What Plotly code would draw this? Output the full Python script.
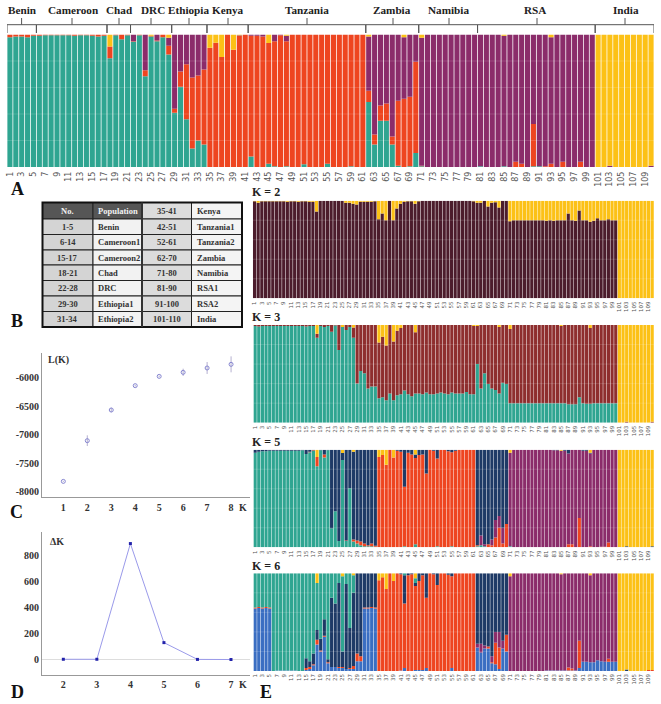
import plotly.graph_objects as go

W, H = 661, 704
BARS = list(range(1, 111))
TICKS = list(range(1, 110, 2))

TEAL, ORANGE, PURPLE, YELLOW = "#2fa591", "#ee4520", "#8b2c6a", "#fcc116"
DARK, BROWN, NAVY, BLUE = "#4c1c2c", "#8e2e2e", "#1e3a66", "#3a6ec2"

# ---- panel A
A_TEAL = [98,98.5,98.5,98,99,99,99.5,99.5,99.5,99.5,
 99.5,99,99.5,99.5,99,98.5,99,82,99.5,96.5,
 99.5,94.5,99.5,68.5,98.5,95,98,85,41,60.5,
 36,14,20,17,0,0,0,0,0,0,
 0,8,0,0,2.5,.5,0,.5,0,0,
 2,0,0,0,2.5,0,0,0,.5,0,
 0,49,17,35,35,17,1,0,.5,10.5,
 .5,0,0,0,0,0,0,0,0,0,
 .5,0,0,0,.5,0,0,0,0,.5,
 .5,0,0,0,0,0,0,0,0,0,
 0,0,0,0,0,0,0,0,0,0]
A_ORANGE = [2,1.5,1.5,2,1,1,.5,.5,.5,.5,
 .5,1,.5,.5,1,1.5,1,9,.5,3.5,
 .5,.5,.5,4.5,.5,.5,2,6.5,3,11.5,
 41.5,53.5,49,56.5,90,93.7,83,100,88.5,99,
 100,91,99,98.5,91,94.5,99.5,94.5,100,100,
 98,100,100,100,97.5,100,100,100,99.5,100,
 100,8.5,7.5,11.5,13,6,49,51.5,52.5,69,
 .5,0,0,0,0,0,0,0,0,0,
 0,0,0,0,0,0,4,2.5,0,32,
 0,.5,2.5,0,4,0,0,4,0,0,
 0,0,0,0,0,0,0,0,0,0]
A_PURPLE = [0,0,0,0,0,0,0,0,0,0,
 0,0,0,0,0,0,0,0,0,0,
 0,5,0,27,0,4.5,0,6,56,28,
 22.5,32.5,31,26.5,0,0,0,0,0,.5,
 0,1,1,1.5,0,5,.5,4,0,0,
 0,0,0,0,0,0,0,0,0,0,
 0,41,75.5,53.5,52,77,50,46.5,47,20.5,
 96.5,100,100,100,100,100,100,100,100,100,
 99.5,100,100,100,98.5,100,96,97.5,100,67.5,
 99.5,99.5,95.5,100,96,100,100,96,100,100,
 0,0,1,0,0,0,0,0,0,1]
A_YELLOW = [0,0,0,0,0,0,0,0,0,0,
 0,0,0,0,0,0,0,9,0,0,
 0,0,0,0,1,0,0,2.5,0,0,
 0,0,0,0,10,6.3,17,0,11.5,.5,
 0,0,0,0,6.5,0,0,1,0,0,
 0,0,0,0,0,0,0,0,0,0,
 0,1.5,0,0,0,0,0,2,0,0,
 2.5,0,0,0,0,0,0,0,0,0,
 0,0,0,0,1,0,0,0,0,0,
 0,0,2,0,0,0,0,0,0,0,
 100,100,99,100,100,100,100,100,100,99]

# ---- K = 2
K2_DARK = [99.5,98,99.5,99.5,99.5,99.5,99.5,99.5,99.5,99,
 99.5,99.5,99,99.5,99.5,99,99,89,100,100,
 100,100,100,100,100,98,98,97,96,99,
 99,99,99,99.5,81,87,80,100,80,92,
 97,99,99.5,99.5,97,99.5,100,100,100,100,
 100,100,100,100,100,100,100,100,100,100,
 99.5,98,98,100,94,98,98.5,93,100,100,
 79,80,80,80,80,80,80,80,80,80,
 79.5,80,79.5,80,80,80,87,80,79.5,90,
 80,80,78.5,79.5,82,80,80,81,80,80,
 0,0,0,0,0,0,0,0,0,0]
K2_YELLOW = [.5,2,.5,.5,.5,.5,.5,.5,.5,1,
 .5,.5,1,.5,.5,1,1,11,0,0,
 0,0,0,0,0,2,2,3,4,1,
 1,1,1,.5,19,13,20,0,20,8,
 3,1,.5,.5,3,.5,0,0,0,0,
 0,0,0,0,0,0,0,0,0,0,
 .5,2,2,0,6,2,1.5,7,0,0,
 21,20,20,20,20,20,20,20,20,20,
 20.5,20,20.5,20,20,20,13,20,20.5,10,
 20,20,21.5,20.5,18,20,20,19,20,20,
 100,100,100,100,100,100,100,100,100,100]

# ---- K = 3
K3_TEAL = [99,98.5,99,99,99,99,99,99,99,99,
 99,99,99,99,98.5,99,99,87,99,98,
 99,93,99.5,74.5,98,95,98,87,40,53,
 50.5,35,37,37,25,26,23,30,23,28,
 29,33,29,27,30,30,29,31,29,29,
 30,31,30,29,31,30,30,30,31.5,29,
 29,60,35,50.5,39.5,35,33.5,30,41,39.5,
 20,20,20,20,20,20,20,20,20,20,
 20,20,20,20,20,20,19,19,19,26,
 20,19.5,19.5,20,20,20,20,20,20,20,
 0,0,0,0,0,0,0,0,0,0]
K3_BROWN = [1,1.5,1,1,1,1,1,1,1,1,
 1,1,1,1,1.5,1,1,4,1,2,
 1,7,.5,25.5,0,5,2,10.5,60,47,
 49.5,65,63,63,57,62,56,70,60,66,
 68,67,71,73,62.5,70,71,69,71,71,
 70,69,70,71,69,70,70,70,68.5,71,
 70,39,65,49.5,60.5,65,66.5,68,59,60.5,
 76,80,80,80,80,80,80,80,80,80,
 80,80,80,80,79,80,81,81,81,74,
 80,80.5,77.5,80,80,80,80,80,80,80,
 0,0,1,0,0,0,0,0,0,1]
K3_YELLOW = [0,0,0,0,0,0,0,0,0,0,
 0,0,0,0,0,0,0,9,0,0,
 0,0,0,0,2,0,0,2.5,0,0,
 0,0,0,0,18,12,21,0,17,6,
 3,0,0,0,7.5,0,0,0,0,0,
 0,0,0,0,0,0,0,0,0,0,
 1,1,0,0,0,0,0,2,0,0,
 4,0,0,0,0,0,0,0,0,0,
 0,0,0,0,1,0,0,0,0,0,
 0,0,3,0,0,0,0,0,0,0,
 100,100,99,100,100,100,100,100,100,99]

# ---- K = 5
K5_TEAL = [97,98,98.5,98.5,99,99,99,99,99,99,
 99,99,99,99.5,95.5,97.5,99,83,99.5,92,
 99.5,19.5,37,6.5,89.5,6.5,60.5,6,4,2,
 1,1,1,.5,0,0,0,0,0,0,
 0,1,0,0,3,0,0,0,0,0,
 1,0,0,0,1,0,0,0,0,0,
 0,1,2,1,0,0,0,0,0,0,
 1,0,0,0,0,0,0,0,0,0,
 0,0,0,0,0,0,0,0,0,0,
 0,0,0,0,0,0,0,0,0,0,
 0,0,0,0,0,0,0,0,0,0]
K5_ORANGE = [0,0,0,0,0,0,0,0,0,0,
 0,0,0,0,0,.5,.5,9.5,0,3,
 0,0,0,0,0,.5,0,2,3,4,
 3,1,3,1,92.5,94.5,84.5,100,92,99,
 98,61,97,95,88.5,94.5,95,75.5,100,99,
 90,100,100,98.5,96.5,99,100,100,100,100,
 100,1,0,0,3,2,10,20,4,24,
 0,0,0,0,0,0,0,0,0,0,
 0,0,0,0,0,0,3,3,0,30,
 0,0,1,0,0,.5,.5,5,0,0,
 0,0,0,0,0,0,0,0,0,0]
K5_PURPLE = [0,0,0,0,0,0,0,0,0,0,
 0,0,0,0,0,0,0,0,0,0,
 0,0,0,0,0,0,0,0,0,0,
 0,0,0,0,0,0,0,0,0,0,
 0,0,0,0,0,0,0,0,0,0,
 0,0,0,0,0,0,0,0,0,0,
 0,0,10,2,0,6,18,12,16,0,
 96,100,100,100,100,100,100,100,100,100,
 100,100,99.5,99.5,99,99,93,97,100,70,
 99,99,95,100,100,99.5,99.5,95,100,100,
 0,0,0,0,0,0,0,0,0,0]
K5_NAVY = [3,2,1.5,1.5,1,1,1,1,1,1,
 1,1,1,.5,4.5,2,.5,0,.5,5,
 .5,80.5,63,93.5,7,93,39.5,90,93,94,
 96,98,96,98.5,0,0,0,0,0,1,
 2,38,3,5,3.5,5.5,5,24.5,0,1,
 9,0,0,1.5,2.5,1,0,0,0,0,
 0,98,88,97,97,92,72,68,80,76,
 0,0,0,0,0,0,0,0,0,0,
 0,0,.5,.5,0,1,4,0,0,0,
 1,1,1,0,0,0,0,0,0,0,
 0,0,1,0,0,0,0,0,0,1]
K5_YELLOW = [0,0,0,0,0,0,0,0,0,0,
 0,0,0,0,0,0,0,7.5,0,0,
 0,0,0,0,3.5,0,0,2,0,0,
 0,0,0,0,7.5,5.5,15.5,0,8,0,
 0,0,0,0,5,0,0,0,0,0,
 0,0,0,0,0,0,0,0,0,0,
 0,0,0,0,0,0,0,0,0,0,
 3,0,0,0,0,0,0,0,0,0,
 0,0,0,0,1,0,0,0,0,0,
 0,0,3,0,0,0,0,0,0,0,
 100,100,99,100,100,100,100,100,100,99]

# ---- K = 6
K6_BLUE = [64,64.5,64,64.5,64,0,.5,.5,.5,.5,
 .5,.5,0,0,1,2,6,27,20,35,
 8,4,4,3,3,2,2,2,10,10,
 64,64,64.5,64,0,0,0,0,0,0,
 .5,3,0,0,1,1,1,3,0,0,
 0,0,0,0,3,0,0,0,0,0,
 0,24,19,23,23,8,7,2,23,20,
 0,0,0,0,0,0,0,0,0,0,
 .5,.5,.5,.5,.5,.5,.5,.5,.5,3,
 9.5,9.5,9,9,11,10,9.5,9.5,9.5,9.5,
 0,0,0,0,0,0,0,0,0,0]
K6_ORANGE = [1,1,1,1,1,0,0,0,0,0,
 0,0,0,0,2,2,1,5,1,1,
 1,0,0,1,1,0,1,3,8,5,
 1,1,1,1,93,96,84,100,92,100,
 98.5,66,98,99,86,91,97,72,100,99,
 88,100,100,98.5,94,100,100,100,100,100,
 100,0,0,0,2,1,22,22,0,17,
 0,0,0,0,0,0,0,0,0,0,
 0,0,0,0,0,0,3,2,0,28,
 0,0,0,0,0,0,0,3,0,0,
 0,0,0,0,0,0,0,0,1,1]
K6_PURPLE = [0,0,0,0,0,0,0,0,0,0,
 0,0,0,0,0,0,0,0,0,0,
 0,0,0,0,0,0,0,0,0,0,
 0,0,0,0,0,0,0,0,0,0,
 0,0,0,0,0,0,0,0,0,0,
 0,0,0,0,0,0,0,0,0,0,
 0,4,9,3,0,6,11,16,8,0,
 97,100,100,100,100,100,100,100,100,100,
 99.5,99.5,99.5,99.5,98.5,99.5,96.5,97.5,99.5,69,
 90.5,90.5,89,91,89,90,90.5,87.5,90.5,90.5,
 0,0,0,0,0,0,0,0,0,0]
K6_NAVY = [0,0,0,0,0,0,0,0,0,0,
 0,0,0,0,10,6,11,10,12,17,
 3,71,65,86,16,87,41,75,82,85,
 35,35,34.5,35,0,0,0,0,0,0,
 1,29,2,1,3,8,2,25,0,1,
 12,0,0,1.5,3,0,0,0,0,0,
 0,72,72,74,75,85,60,60,69,63,
 0,0,0,0,0,0,0,0,0,0,
 0,0,0,0,0,0,0,0,0,0,
 0,0,0,0,0,0,0,0,0,0,
 0,0,1.5,0,0,0,0,0,0,0]
K6_TEAL = [35,34.5,35,34.5,35,100,99.5,99.5,99.5,99.5,
 99.5,99.5,100,100,87,90,82,48,67,47,
 88,25,31,10,77,11,56,18,0,0,
 0,0,0,0,0,0,0,0,0,0,
 0,2,0,0,5,0,0,0,0,0,
 0,0,0,0,0,0,0,0,0,0,
 0,0,0,0,0,0,0,0,0,0,
 0,0,0,0,0,0,0,0,0,0,
 0,0,0,0,0,0,0,0,0,0,
 0,0,0,0,0,0,0,0,0,0,
 0,0,0,0,0,0,0,0,0,0]
K6_YELLOW = [0,0,0,0,0,0,0,0,0,0,
 0,0,0,0,0,0,0,10,0,0,
 0,0,0,0,3,0,0,2,0,0,
 0,0,0,0,7,4,16,0,8,0,
 0,0,0,0,5,0,0,0,0,0,
 0,0,0,0,0,0,0,0,0,0,
 0,0,0,0,0,0,0,0,0,0,
 3,0,0,0,0,0,0,0,0,0,
 0,0,0,0,1,0,0,0,0,0,
 0,0,2,0,0,0,0,0,0,0,
 100,100,98.5,100,100,100,100,100,99,99]

# ---- panels C and D
LK_K = [1, 2, 3, 4, 5, 6, 7, 8]
LK_MEAN = [-7819, -7105, -6567, -6140, -5977, -5906, -5830, -5766]
LK_ERR = [10, 94, 40, 15, 15, 64, 105, 140]
DK_K = [2, 3, 4, 5, 6, 7]
DK_VAL = [0, 0, 890, 128, -1, -2]

# ---- population groups
GROUPS = ["Benin","Cameroon","Chad","DRC","Ethiopia","Kenya","Tanzania","Zambia","Namibia","RSA","India"]
GROUP_START = [0,5,17,21,28,34,41,61,70,80,100]
GROUP_END = [5,17,21,28,34,41,61,70,80,100,110]
GROUP_LABEL_X = [22,73,119,153,188,227,307,392,448,535,626]
GROUP_TICK_X = [21.6,72,119,151,189,228,307,393,449,537,625]

# ---- table
T_NO = ["No.","1-5","6-14","15-17","18-21","22-28","29-30","31-34"]
T_POP = ["Population","Benin","Cameroon1","Cameroon2","Chad","DRC","Ethiopia1","Ethiopia2"]
T_NO2 = ["35-41","42-51","52-61","62-70","71-80","81-90","91-100","101-110"]
T_POP2 = ["Kenya","Tanzania1","Tanzania2","Zambia","Namibia","RSA1","RSA2","India"]
COL_EDGES = [42.5, 93, 142, 191.5, 242]
ROW_EDGES = [202.5, 219, 234.5, 250, 265, 280.5, 296, 311.5, 327]

SERIF = "Liberation Serif"
SANS = "DejaVu Sans"


def fx(p):
    return p / W


def fy(p):
    return 1 - p / H


fig = go.Figure()
layout = {}
shapes = []
ann = []


def text(x, y, s, size=12, color="#222", bold=True, anchor="center"):
    ann.append(dict(xref="paper", yref="paper", x=fx(x), y=fy(y), text=f"<b>{s}</b>" if bold else s,
                    showarrow=False, xanchor=anchor, yanchor="middle",
                    font=dict(family=SERIF, size=size, color=color)))


def stack(idx, rect, series, tick_size):
    x0, y0, x1, y1 = rect
    suffix = "" if idx == 1 else str(idx)
    for vals, col in series:
        fig.add_trace(go.Bar(x=BARS, y=vals, marker=dict(color=col, line=dict(width=0)),
                             xaxis="x" + suffix, yaxis="y" + suffix, showlegend=False, hoverinfo="skip"))
    layout["xaxis" + suffix] = dict(domain=[fx(x0), fx(x1)], range=[0.5, 110.5], anchor="y" + suffix,
                                    tickmode="array", tickvals=TICKS, ticktext=[str(t) for t in TICKS],
                                    tickangle=-90, showgrid=False, zeroline=False, showline=False,
                                    ticks="", ticklabelstandoff=1 if idx > 1 else 2,
                                    tickfont=dict(family=SANS, size=tick_size, color="#555"))
    layout["yaxis" + suffix] = dict(domain=[fy(y1), fy(y0)], range=[0, 100], anchor="x" + suffix,
                                    showgrid=False, zeroline=False, showline=False, showticklabels=False)
    for g in (20, 40, 60, 80):
        shapes.append(dict(type="line", xref=f"x{suffix} domain", yref="y" + suffix, x0=0, x1=1, y0=g, y1=g,
                           layer="above", line=dict(color="rgba(255,255,255,0.14)", width=1)))


stack(1, (7, 34.5, 654, 167), [(A_TEAL, TEAL), (A_ORANGE, ORANGE), (A_PURPLE, PURPLE), (A_YELLOW, YELLOW)], 8)
stack(2, (252.7, 200.7, 654, 298.3), [(K2_DARK, DARK), (K2_YELLOW, YELLOW)], 5.5)
stack(3, (253.3, 325, 654, 422.7), [(K3_TEAL, TEAL), (K3_BROWN, BROWN), (K3_YELLOW, YELLOW)], 5.5)
stack(4, (253.3, 449.7, 654, 547.3),
      [(K5_TEAL, TEAL), (K5_ORANGE, ORANGE), (K5_PURPLE, PURPLE), (K5_NAVY, NAVY), (K5_YELLOW, YELLOW)], 5.5)
stack(5, (253.3, 573.3, 654, 671),
      [(K6_BLUE, BLUE), (K6_ORANGE, ORANGE), (K6_PURPLE, PURPLE), (K6_NAVY, NAVY), (K6_TEAL, TEAL), (K6_YELLOW, YELLOW)], 5.5)

# brackets above panel A
BR = dict(color="#555", width=1)
for name, s, e, lx, tx in zip(GROUPS, GROUP_START, GROUP_END, GROUP_LABEL_X, GROUP_TICK_X):
    s_, e_ = s + 0.5, e + 0.5
    shapes.append(dict(type="line", xref="x", yref="paper", x0=s_, x1=e_, y0=fy(24.7), y1=fy(24.7), line=BR))
    shapes.append(dict(type="line", xref="x", yref="paper", x0=s_, x1=s_, y0=fy(24.7), y1=fy(33), line=BR))
    shapes.append(dict(type="line", xref="x", yref="paper", x0=e_, x1=e_, y0=fy(24.7), y1=fy(33), line=BR))
    shapes.append(dict(type="line", xref="paper", yref="paper", x0=fx(tx), x1=fx(tx), y0=fy(18), y1=fy(24.7), line=BR))
    text(lx, 10.5, name, size=11.2)

# Panel C
AX = dict(showgrid=False, zeroline=False, ticks="", showline=True, linecolor="#999", linewidth=1)
TF = dict(family=SERIF, size=10, color="#333")
fig.add_trace(go.Scatter(x=LK_K, y=LK_MEAN, mode="markers", xaxis="x6", yaxis="y6", showlegend=False,
                         marker=dict(symbol="circle-open", size=4, color="#8585d0", line=dict(width=1)),
                         error_y=dict(type="data", array=LK_ERR, color="#b5b0d0", thickness=1, width=0)))
layout["xaxis6"] = dict(AX, domain=[fx(42), fx(250)], range=[0.11, 8.79], anchor="y6", tickvals=LK_K,
                        ticktext=[f"<b>{k}</b>" for k in LK_K],
                        ticklabelstandoff=1, tickfont=TF)
layout["yaxis6"] = dict(AX, domain=[fy(497), fy(353)], range=[-8093, -5567], anchor="x6",
                        tickvals=[-8000, -7500, -7000, -6500, -6000],
                        ticktext=["<b>-8000</b>", "<b>-7500</b>", "<b>-7000</b>", "<b>-6500</b>", "<b>-6000</b>"],
                        tickfont=TF)

# Panel D
fig.add_trace(go.Scatter(x=DK_K, y=DK_VAL, mode="lines+markers", xaxis="x7", yaxis="y7", showlegend=False,
                         line=dict(color="#9a9aea", width=1),
                         marker=dict(symbol="square", size=3, color="#2222aa")))
layout["xaxis7"] = dict(AX, domain=[fx(42), fx(250)], range=[1.364, 7.567], anchor="y7", tickvals=DK_K,
                        ticktext=[f"<b>{k}</b>" for k in DK_K],
                        ticklabelstandoff=0, tickfont=TF)
layout["yaxis7"] = dict(AX, domain=[fy(675), fy(532)], range=[-121, 979], anchor="x7",
                        tickvals=[0, 200, 400, 600, 800],
                        ticktext=["<b>0</b>", "<b>200</b>", "<b>400</b>", "<b>600</b>", "<b>800</b>"],
                        tickfont=TF, zeroline=True, zerolinecolor="#ddd", zerolinewidth=1)

text(58, 360, "L(K)", size=10, color="#333")
text(243, 507.5, "K", size=10, color="#333")
text(56.5, 541, "ΔK", size=10, color="#333")
text(243, 684.5, "K", size=10, color="#333")

# Table drawn as filled cells with real text
CELL_FILL = ["#d4d4d4", "#f2f2f2", "#dcdcdc", "#f4f4f4"]
COLS = [T_NO, T_POP, T_NO2, T_POP2]
for c, col in enumerate(COLS):
    for r, val in enumerate(col):
        header = (r == 0 and c < 2)
        shapes.append(dict(type="rect", xref="paper", yref="paper", layer="below",
                           x0=fx(COL_EDGES[c]), x1=fx(COL_EDGES[c + 1]),
                           y0=fy(ROW_EDGES[r + 1]), y1=fy(ROW_EDGES[r]),
                           fillcolor="#565656" if header else CELL_FILL[c],
                           line=dict(color="#222", width=1)))
        ym = (ROW_EDGES[r] + ROW_EDGES[r + 1]) / 2
        color = "#f2f2f2" if header else "#333"
        if c % 2 == 0:
            text((COL_EDGES[c] + COL_EDGES[c + 1]) / 2, ym, val, size=8.5, color=color)
        else:
            text(COL_EDGES[c] + 3, ym, val, size=8.5, color=color, anchor="left")
shapes.append(dict(type="rect", xref="paper", yref="paper", x0=fx(42.5), x1=fx(242), y0=fy(327), y1=fy(202.5),
                   line=dict(color="#111", width=2)))
shapes.append(dict(type="line", xref="paper", yref="paper", x0=fx(142), x1=fx(142), y0=fy(327), y1=fy(202.5),
                   line=dict(color="#333", width=2)))

# Panel letters and K headers
text(17, 189, "A", size=18, color="#111")
text(17, 321, "B", size=18, color="#111")
text(16, 512, "C", size=18, color="#111")
text(17, 692, "D", size=18, color="#111")
text(266, 692, "E", size=18, color="#111")
text(266, 192, "K = 2", size=12, color="#222")
text(266, 317, "K = 3", size=12, color="#222")
text(266, 442, "K = 5", size=12, color="#222")
text(266, 566, "K = 6", size=12, color="#222")

fig.update_layout(width=W, height=H, margin=dict(l=0, r=0, t=0, b=0), barmode="stack", bargap=0.13,
                  plot_bgcolor="white", paper_bgcolor="white", showlegend=False,
                  shapes=shapes, annotations=ann, **layout)
POST = """
document.body.style.margin='0';
var st=document.createElement('style');
st.textContent='.bars path,.point path{shape-rendering:geometricPrecision !important;}';
document.head.appendChild(st);
"""
fig.write_html("out.html", post_script=POST, config=dict(staticPlot=True))
